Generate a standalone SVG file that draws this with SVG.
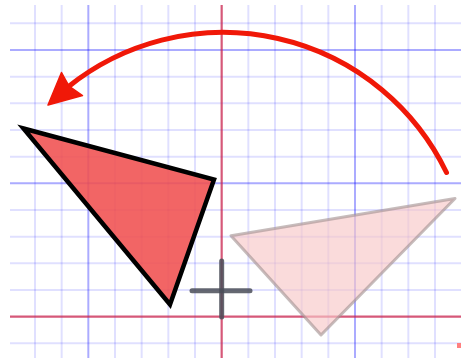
<svg xmlns="http://www.w3.org/2000/svg" width="462" height="358" viewBox="0 0 462 358">
  <style>
    .minor { stroke: #0000ff; stroke-opacity: 0.12; stroke-width: 2; }
    .major { stroke: #0000ff; stroke-opacity: 0.33; stroke-width: 2; }
    .axis { stroke: #c8204c; stroke-opacity: 0.75; stroke-width: 2.2; }
  </style>
  <rect width="462" height="358" fill="#ffffff"/>
  <g id="grid">
    <g class="minor">
      <line x1="35" y1="5" x2="35" y2="358"/>
      <line x1="61.67" y1="5" x2="61.67" y2="358"/>
      <line x1="115" y1="5" x2="115" y2="358"/>
      <line x1="141.67" y1="5" x2="141.67" y2="358"/>
      <line x1="168.33" y1="5" x2="168.33" y2="358"/>
      <line x1="195" y1="5" x2="195" y2="358"/>
      <line x1="248.33" y1="5" x2="248.33" y2="358"/>
      <line x1="275" y1="5" x2="275" y2="358"/>
      <line x1="301.67" y1="5" x2="301.67" y2="358"/>
      <line x1="328.33" y1="5" x2="328.33" y2="358"/>
      <line x1="381.67" y1="5" x2="381.67" y2="358"/>
      <line x1="408.33" y1="5" x2="408.33" y2="358"/>
      <line x1="435" y1="5" x2="435" y2="358"/>
      <line x1="10" y1="23.33" x2="461" y2="23.33"/>
      <line x1="10" y1="76.67" x2="461" y2="76.67"/>
      <line x1="10" y1="103.33" x2="461" y2="103.33"/>
      <line x1="10" y1="130" x2="461" y2="130"/>
      <line x1="10" y1="156.67" x2="461" y2="156.67"/>
      <line x1="10" y1="210" x2="461" y2="210"/>
      <line x1="10" y1="236.67" x2="461" y2="236.67"/>
      <line x1="10" y1="263.33" x2="461" y2="263.33"/>
      <line x1="10" y1="290" x2="461" y2="290"/>
      <line x1="10" y1="343.33" x2="461" y2="343.33"/>
    </g>
    <g class="major">
      <line x1="88.33" y1="5" x2="88.33" y2="358"/>
      <line x1="355" y1="5" x2="355" y2="358"/>
      <line x1="10" y1="50" x2="461" y2="50"/>
      <line x1="10" y1="183.33" x2="461" y2="183.33"/>
    </g>
    <g class="axis">
      <line x1="221.67" y1="5" x2="221.67" y2="358"/>
      <line x1="10" y1="316.67" x2="461" y2="316.67"/>
    </g>
    <rect x="457" y="343" width="4" height="5" fill="#ff8080"/>
  </g>
  <g id="image-triangle">
    <polygon points="231,235.7 455,198.5 321,335" fill="#f8c8c8" fill-opacity="0.65" stroke="#a09090" stroke-opacity="0.6" stroke-width="3" stroke-linejoin="round"/>
  </g>
  <g id="original-triangle">
    <polygon points="23.5,128.5 214,179.5 170,304.5" fill="#f05050" fill-opacity="0.88" stroke="#000000" stroke-width="4.5" stroke-linejoin="miter"/>
  </g>
  <g id="center">
    <line x1="192" y1="290.7" x2="250" y2="290.7" stroke="#4a4d58" stroke-opacity="0.85" stroke-width="5" stroke-linecap="round"/>
    <line x1="221.67" y1="261" x2="221.67" y2="317" stroke="#4a4d58" stroke-opacity="0.85" stroke-width="5" stroke-linecap="round"/>
  </g>
  <g id="connectors">
    <path d="M446.5,172.5 A248,248 0 0 0 68,87" fill="none" stroke="#f01808" stroke-width="5" stroke-linecap="round"/>
    <polygon points="48,105 61.5,72.5 69,86 82.5,95.5" fill="#f01808" stroke="#f01808" stroke-width="1.5" stroke-linejoin="round"/>
  </g>
</svg>
